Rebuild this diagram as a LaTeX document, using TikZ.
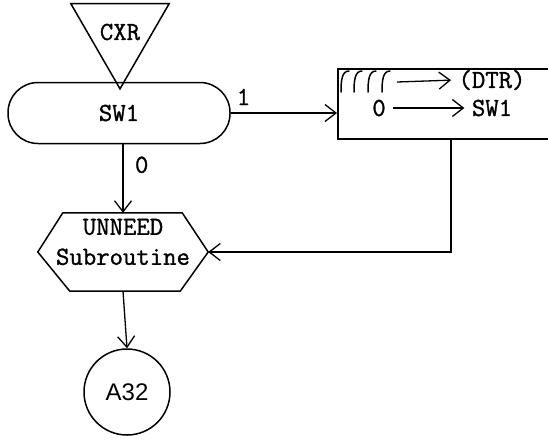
\documentclass[tikz,border=0pt]{standalone}
\usepackage{fontspec}
\setmonofont{Latin Modern Mono}[FakeBold=1.2]
\setsansfont{Liberation Sans}
\usetikzlibrary{arrows.meta,calc,shapes.geometric}

\tikzset{
  flow/.style={line width=1.3pt,-{Straight Barb[length=11pt,width=17pt]}},
  shp/.style={draw,line width=1.5pt},
  hook/.style={line width=1.5pt,line cap=round},
}

\begin{document}
\begin{tikzpicture}[x=1pt,y=-1pt,font=\ttfamily\fontsize{26}{30}\selectfont]
  \useasboundingbox (0,0) rectangle (548,440);
  \clip (0,0) rectangle (548,440);
  % entry and switch
  \node[shp,regular polygon,regular polygon sides=3,shape border rotate=180,
        minimum size=108pt,inner sep=0pt] (cxr) at (120,32) {CXR};
  \node[shp,rounded corners=30pt,minimum width=222pt,minimum height=61pt] (sw) at (119,113) {SW1};
  % set box, runs off the page
  \node[shp,minimum width=260pt,minimum height=70pt,anchor=north west] (set) at (337,68) {};
  \foreach \x in {341,354,368,382}
    \draw[hook] (\x,92) .. controls (\x,80) and (\x+1,71) .. (\x+8,71);
  \coordinate (marks) at (397,82);
  \node (dtr) at (492,80) {(DTR)};
  \node (zero) at (379,108) {0};
  \node (swa) at (492,108) {SW1};
  \draw[flow,shorten >=4pt] (marks) -- (dtr.west);
  \draw[flow,shorten <=4pt,shorten >=4pt] (zero.east) -- (swa.west);
  % subroutine and exit
  \node[minimum width=170pt,minimum height=78pt,inner sep=0pt,
        label={[align=center,yshift=10pt]center:UNNEED\\Subroutine}] (unneed) at (123,252) {};
  \draw[shp] (unneed.west) -- ($(unneed.north west)+(25,0)$) -- ($(unneed.north east)+(-26,0)$)
    -- (unneed.east) -- ($(unneed.south east)+(-28,0)$) -- ($(unneed.south west)+(32,0)$) -- cycle;
  \node[shp,circle,minimum size=86pt,font=\sffamily\fontsize{24}{28}\selectfont] (a32) at (127,392) {A32};
  % flow lines
  \draw[flow] (sw.east) -- node[pos=0.12,above=4pt] (one) {1} (sw.east -| set.west);
  \draw[flow] (sw.south -| unneed.north) -- node[pos=0.3,right=8pt] (nil) {0} (unneed.north);
  \draw[flow] ($(set.south west)+(114,0)$) |- (unneed.east);
  \draw[flow] (unneed.south) -- (a32.north);
\end{tikzpicture}
\end{document}
